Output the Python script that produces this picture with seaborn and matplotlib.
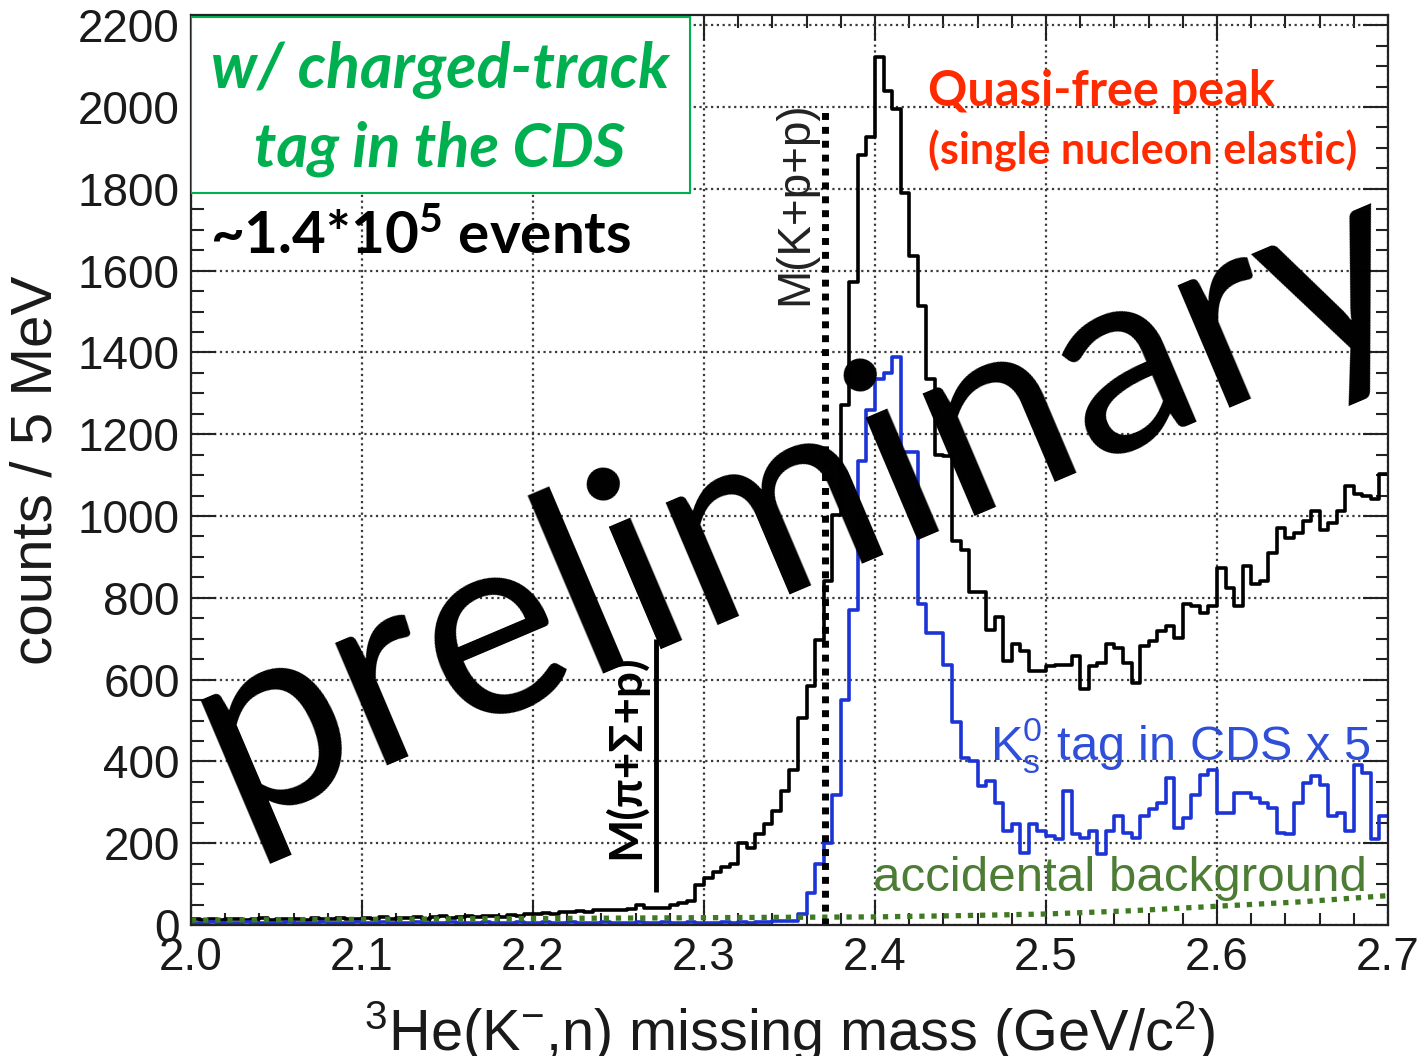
import numpy as np
import pandas as pd
import seaborn as sns
import matplotlib.pyplot as plt
from matplotlib.patches import Rectangle
from matplotlib.ticker import MultipleLocator, FormatStrFormatter

# 5 MeV bins from 2.0 to 2.7 GeV/c^2
x_lo, x_hi, bin_w = 2.0, 2.7, 0.005

# w/ charged-track tag in the CDS (counts / bin)
counts_charged = [
    14, 12, 15, 13, 16, 14, 12, 15, 17, 13,
    14, 16, 15, 13, 17, 15, 14, 18, 16, 15,
    17, 16, 19, 15, 18, 17, 20, 16, 19, 21,
    18, 20, 22, 19, 23, 21, 20, 24, 22, 26,
    28, 30, 27, 33, 32, 35, 33, 37, 36, 38,
    37, 39, 49, 41, 42, 41, 50, 55, 60, 98,
    116, 130, 142, 150, 200, 188, 222, 248, 280, 327,
    380, 506, 584, 698, 840, 1003, 1271, 1571, 1883, 1927,
    2122, 2040, 1996, 1789, 1635, 1514, 1336, 1150, 1148, 938,
    916, 814, 814, 722, 753, 645, 686, 669, 620, 620,
    633, 637, 637, 657, 576, 633, 641, 686, 678, 641,
    592, 682, 694, 718, 731, 702, 784, 780, 763, 780,
    873, 824, 780, 878, 833, 841, 910, 971, 947, 959,
    988, 1012, 967, 984, 1012, 1073, 1053, 1049, 1041, 1102,
]

# K0s tag in CDS, scaled x 5
counts_k0s = [
    6, 5, 7, 6, 5, 6, 7, 5, 6, 6,
    5, 7, 6, 5, 6, 7, 6, 5, 6, 7,
    6, 5, 7, 6, 6, 5, 7, 6, 5, 6,
    7, 6, 5, 6, 7, 6, 6, 5, 7, 6,
    6, 7, 5, 6, 7, 6, 5, 6, 7, 6,
    6, 5, 7, 6, 6, 7, 5, 6, 7, 6,
    6, 5, 7, 6, 8, 6, 7, 8, 9, 10,
    10, 28, 79, 149, 200, 317, 551, 770, 1134, 1260,
    1336, 1350, 1388, 1157, 1157, 784, 714, 714, 635, 496,
    408, 400, 339, 351, 299, 230, 246, 177, 246, 230,
    218, 210, 327, 222, 214, 230, 173, 230, 266, 226,
    214, 266, 283, 299, 360, 238, 262, 319, 368, 380,
    274, 274, 323, 323, 311, 299, 287, 226, 222, 299,
    347, 364, 343, 266, 274, 230, 392, 372, 210, 266,
]

# accidental background (every 50 MeV)
bg_mass = [2.0, 2.05, 2.1, 2.15, 2.2, 2.25, 2.3, 2.35, 2.4, 2.45, 2.5, 2.55, 2.6, 2.65, 2.7]
bg_counts = [12, 13, 14, 15, 16, 17, 18, 19, 20, 23, 27, 35, 46, 57, 72]

# threshold lines
m_kpp = 2.3705
m_pisigp = 2.272

edges = [x_lo + i * bin_w for i in range(len(counts_charged) + 1)]
centers = [e + bin_w / 2 for e in edges[:-1]]
df = pd.DataFrame({'mass': centers, 'charged': counts_charged, 'k0s': counts_k0s})
df_bg = pd.DataFrame({'mass': bg_mass, 'counts': bg_counts})

sns.set_style("ticks")
plt.rcParams['font.family'] = ['Liberation Sans', 'DejaVu Sans']
plt.rcParams['mathtext.fontset'] = 'custom'
plt.rcParams['mathtext.rm'] = 'Liberation Sans'
plt.rcParams['mathtext.it'] = 'Liberation Sans:italic'
plt.rcParams['mathtext.bf'] = 'Lato:bold'

fig = plt.figure(figsize=(14.22, 10.56), dpi=100)
ax = fig.add_axes([0.1343, 0.124, 0.8418, 0.8618])

# dotted ROOT-style grid
ax.grid(True, which='major', color='#3a3a3a', linewidth=1.6, linestyle=(0, (1, 1.6)))
ax.set_axisbelow(True)

sns.histplot(data=df, x='mass', weights='charged', bins=edges, element='step',
             fill=False, color='black', linewidth=2.6, ax=ax)
sns.histplot(data=df, x='mass', weights='k0s', bins=edges, element='step',
             fill=False, color='#1c34d6', linewidth=2.6, ax=ax)
sns.lineplot(data=df_bg, x='mass', y='counts', color='#3f7a22', linewidth=3.8,
             linestyle=(0, (1, 1.3)), ax=ax)

ax.vlines(m_kpp, 0, 2000, colors='black', linewidth=5, linestyles=(0, (1, 1)))
ax.vlines(m_pisigp, 80, 700, colors='black', linewidth=3.5)

ax.set_xlim(x_lo, x_hi)
ax.set_ylim(0, 2225)
ax.xaxis.set_major_locator(MultipleLocator(0.1))
ax.xaxis.set_minor_locator(MultipleLocator(0.02))
ax.xaxis.set_major_formatter(FormatStrFormatter('%.1f'))
ax.yaxis.set_major_locator(MultipleLocator(200))
ax.yaxis.set_minor_locator(MultipleLocator(50))
ax.tick_params(which='both', direction='in', top=True, right=True, width=1.5, color='#222222')
ax.tick_params(which='major', length=18, labelsize=33, pad=8, labelcolor='#1a1a1a')
ax.tick_params(which='minor', length=9)
for sp in ax.spines.values():
    sp.set_linewidth(1.6)
    sp.set_color('#222222')

ax.set_xlabel(r'$^{3}$He(K$^{-}$,n) missing mass (GeV/c$^{2}$)', fontsize=41.5,
              labelpad=14, color='#1a1a1a')
ax.set_ylabel('counts / 5 MeV', fontsize=42, labelpad=10, color='#1a1a1a')

# annotations
ax.add_patch(Rectangle((2.0, 1790), 0.2918, 430, facecolor='white',
                       edgecolor='#00b050', linewidth=1.5, zorder=5))
ax.text(2.1456, 2090, 'w/ charged-track', fontsize=45, fontfamily='Lato',
        fontweight='bold', fontstyle='italic', color='#00b050',
        ha='center', va='center', zorder=6)
ax.text(2.1456, 1898, 'tag in the CDS', fontsize=44, fontfamily='Lato',
        fontweight='bold', fontstyle='italic', color='#00b050',
        ha='center', va='center', zorder=6)
ax.text(2.011, 1682, r'~1.4*10$^{\mathbf{5}}$ events', fontsize=42, fontfamily='Lato',
        fontweight='bold', color='black', ha='left', va='center', zorder=6)
ax.text(2.431, 2037, 'Quasi-free peak', fontsize=35, fontfamily='Lato',
        fontweight='bold', color='#ff2a00', ha='left', va='center')
ax.text(2.431, 1893, '(single nucleon elastic)', fontsize=31, fontfamily='Lato',
        fontweight='bold', color='#ff2a00', ha='left', va='center')
ax.text(2.467, 440, r'K$^{0}_{\mathrm{s}}$ tag in CDS x 5', fontsize=35,
        color='#2f4fd8', ha='left', va='center')
ax.text(2.399, 115, 'accidental background', fontsize=35.5,
        color='#4d7d35', ha='left', va='center')
ax.text(2.3532, 1765, 'M(K+p+p)', fontsize=33, rotation=90, color='#222222',
        ha='center', va='center')
ax.text(2.2538, 411, 'M(π+Σ+p)', fontsize=33, rotation=90, color='black',
        fontfamily=['Lato', 'DejaVu Sans'], fontweight='bold',
        ha='center', va='center')

fig.text(0.5626, 0.525, 'preliminary', fontsize=189, fontfamily='Lato',
         rotation=23, rotation_mode='anchor', ha='center', va='center',
         color='black', zorder=20)

plt.savefig('out.png', dpi=100)
